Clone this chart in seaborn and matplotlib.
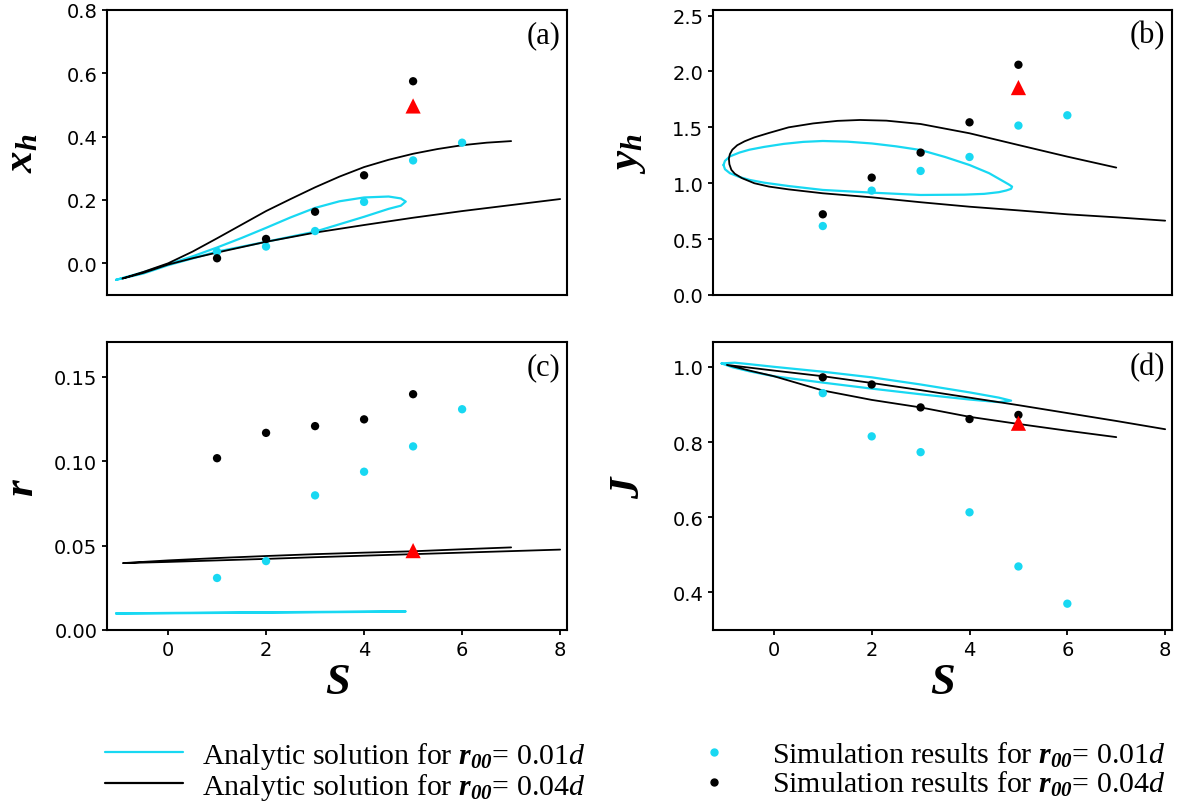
import matplotlib
matplotlib.use("Agg")
import matplotlib.pyplot as plt
from matplotlib.lines import Line2D
from matplotlib.ticker import FormatStrFormatter
import seaborn as sns

# ---- data ----
# simulation points
sim_S_01 = [1, 2, 3, 4, 5, 6]
sim_S_04 = [1, 2, 3, 4, 5]
xh_sim_01 = [0.037, 0.053, 0.102, 0.194, 0.325, 0.381]
xh_sim_04 = [0.016, 0.077, 0.163, 0.278, 0.575]
yh_sim_01 = [0.617, 0.934, 1.11, 1.235, 1.516, 1.608]
yh_sim_04 = [0.722, 1.05, 1.274, 1.545, 2.06]
r_sim_01 = [0.0308, 0.0408, 0.0797, 0.0937, 0.1087, 0.1307]
r_sim_04 = [0.1017, 0.1167, 0.1207, 0.1247, 0.1396]
J_sim_01 = [0.93, 0.815, 0.773, 0.613, 0.469, 0.370]
J_sim_04 = [0.972, 0.953, 0.892, 0.861, 0.872]
# red triangle (S = 5)
tri_S = [5]
tri_xh = [0.497]
tri_yh = [1.856]
tri_r = [0.047]
tri_J = [0.85]

# analytic r00 = 0.01d : closed loop (upper branch out, lower branch back)
a01_xh_up_S = [-1.06, -0.5, 0, 0.5, 1, 1.5, 2, 2.5, 3, 3.5, 4, 4.5, 4.75, 4.85]
a01_xh_up = [-0.052, -0.028, -0.003, 0.022, 0.05, 0.08, 0.112, 0.145, 0.175, 0.196, 0.208, 0.211, 0.205, 0.195]
a01_xh_lo_S = [4.75, 4.5, 4, 3, 2, 1, 0, -0.5, -1.06]
a01_xh_lo = [0.182, 0.172, 0.147, 0.10, 0.068, 0.037, -0.006, -0.032, -0.052]

a01_yh_up_S = [-1.03, -1.0, -0.9, -0.7, -0.5, -0.2, 0.2, 0.6, 1, 1.5, 2, 2.5, 3, 3.5, 4, 4.4, 4.68, 4.8, 4.87]
a01_yh_up = [1.163, 1.20, 1.24, 1.275, 1.30, 1.325, 1.352, 1.37, 1.378, 1.372, 1.356, 1.33, 1.297, 1.235, 1.163, 1.09, 1.02, 0.99, 0.97]
a01_yh_lo_S = [4.85, 4.75, 4.6, 4.3, 3.9, 3, 2, 1, 0.3, -0.2, -0.5, -0.7, -0.9, -1.0, -1.03]
a01_yh_lo = [0.95, 0.935, 0.92, 0.905, 0.898, 0.895, 0.916, 0.94, 0.975, 1.005, 1.03, 1.055, 1.09, 1.125, 1.163]

a01_r_up_S = [-1.06, 0, 1, 2, 3, 4, 4.85]
a01_r_up = [0.0098, 0.0101, 0.0103, 0.0105, 0.0107, 0.0109, 0.0110]
a01_r_lo_S = [4, 3, 2, 1, 0, -1.06]
a01_r_lo = [0.0107, 0.0105, 0.0103, 0.0101, 0.0099, 0.0098]

a01_J_up_S = [-1.07, -0.8, -0.5, 0, 1, 2, 3, 4, 4.6, 4.85]
a01_J_up = [1.009, 1.011, 1.007, 1.0, 0.987, 0.972, 0.953, 0.932, 0.918, 0.91]
a01_J_lo_S = [4.6, 4, 3, 2, 1, 0, -0.5, -0.85, -1.07]
a01_J_lo = [0.906, 0.913, 0.927, 0.942, 0.958, 0.975, 0.988, 0.999, 1.009]

# analytic r00 = 0.04d : branch A ends at S = 7, branch B ends at S = 8
a04_xh_A_S = [-0.93, -0.5, 0, 0.5, 1, 1.5, 2, 2.5, 3, 3.5, 4, 4.5, 5, 5.5, 6, 6.5, 7]
a04_xh_A = [-0.048, -0.027, 0.0, 0.037, 0.079, 0.122, 0.165, 0.203, 0.24, 0.274, 0.304, 0.327, 0.346, 0.361, 0.373, 0.381, 0.386]
a04_xh_B_S = [-0.93, -0.5, 0, 0.5, 1, 2, 3, 4, 5, 6, 7, 8]
a04_xh_B = [-0.048, -0.03, -0.004, 0.016, 0.034, 0.068, 0.097, 0.121, 0.144, 0.165, 0.184, 0.203]

a04_yh_A_S = [-0.92, -0.9, -0.85, -0.75, -0.6, -0.4, -0.1, 0.3, 0.8, 1.3, 1.76, 2.3, 3, 4, 5, 6, 7]
a04_yh_A = [1.22, 1.26, 1.30, 1.34, 1.375, 1.41, 1.45, 1.50, 1.535, 1.558, 1.566, 1.56, 1.53, 1.447, 1.342, 1.238, 1.14]
a04_yh_B_S = [-0.92, -0.91, -0.87, -0.8, -0.65, -0.4, -0.1, 0.3, 1, 2, 3, 4, 5, 6, 7, 8]
a04_yh_B = [1.22, 1.17, 1.12, 1.085, 1.045, 1.0, 0.97, 0.945, 0.91, 0.874, 0.83, 0.79, 0.757, 0.722, 0.695, 0.665]

a04_r_A_S = [-0.92, 0, 1, 2, 3, 4, 5, 6, 7]
a04_r_A = [0.0396, 0.0412, 0.0426, 0.0438, 0.0449, 0.0458, 0.0466, 0.0478, 0.0489]
a04_r_B_S = [-0.92, 0, 1, 2, 3, 4, 5, 6, 7, 8]
a04_r_B = [0.0396, 0.0403, 0.0412, 0.0421, 0.0431, 0.044, 0.0449, 0.0458, 0.0467, 0.0476]

a04_J_A_S = [-0.96, -0.5, 0, 1, 2, 3, 4, 5, 6, 7]
a04_J_A = [1.005, 0.99, 0.975, 0.937, 0.912, 0.892, 0.867, 0.848, 0.83, 0.813]
a04_J_B_S = [-0.96, 0, 1, 2, 3, 4, 5, 6, 7, 8]
a04_J_B = [1.005, 0.99, 0.975, 0.957, 0.938, 0.918, 0.898, 0.877, 0.856, 0.834]

CYAN = "#18d8f2"
RED = "#ff0000"

sns.set_style("ticks")
plt.rcParams.update({
    "font.family": ["DejaVu Sans"],
    "mathtext.fontset": "custom",
    "mathtext.rm": "Liberation Serif",
    "mathtext.it": "Liberation Serif:italic",
    "mathtext.bf": "Liberation Serif:bold",
    "mathtext.bfit": "Liberation Serif:italic:bold",
    "axes.linewidth": 1.5,
    "axes.edgecolor": "black",
    "axes.labelcolor": "black",
    "text.color": "black",
    "xtick.major.width": 1.3,
    "ytick.major.width": 1.3,
    "xtick.color": "black",
    "ytick.color": "black",
    "xtick.labelcolor": "black",
    "ytick.labelcolor": "black",
})

fig = plt.figure(figsize=(11.8, 8.04), dpi=100)
L1, R1 = 107 / 1180, 567 / 1180
L2, R2 = 713 / 1180, 1172 / 1180
T1, B1 = 1 - 11 / 804, 1 - 296 / 804
T2, B2 = 1 - 343 / 804, 1 - 631 / 804
ax_a = fig.add_axes([L1, B1, R1 - L1, T1 - B1])
ax_b = fig.add_axes([L2, B1, R2 - L2, T1 - B1])
ax_c = fig.add_axes([L1, B2, R1 - L1, T2 - B2])
ax_d = fig.add_axes([L2, B2, R2 - L2, T2 - B2])

panels = [
    (ax_a, "(a)", r"$\mathbfit{x}_{\mathbfit{h}}$",
     (a01_xh_up_S, a01_xh_up, a01_xh_lo_S, a01_xh_lo),
     (a04_xh_A_S, a04_xh_A, a04_xh_B_S, a04_xh_B),
     xh_sim_01, xh_sim_04, tri_xh, (-0.1, 0.8), [0.0, 0.2, 0.4, 0.6, 0.8], "%.1f"),
    (ax_b, "(b)", r"$\mathbfit{y}_{\mathbfit{h}}$",
     (a01_yh_up_S, a01_yh_up, a01_yh_lo_S, a01_yh_lo),
     (a04_yh_A_S, a04_yh_A, a04_yh_B_S, a04_yh_B),
     yh_sim_01, yh_sim_04, tri_yh, (0, 2.55), [0.0, 0.5, 1.0, 1.5, 2.0, 2.5], "%.1f"),
    (ax_c, "(c)", r"$\mathbfit{r}$",
     (a01_r_up_S, a01_r_up, a01_r_lo_S, a01_r_lo),
     (a04_r_A_S, a04_r_A, a04_r_B_S, a04_r_B),
     r_sim_01, r_sim_04, tri_r, (0, 0.1705), [0.0, 0.05, 0.10, 0.15], "%.2f"),
    (ax_d, "(d)", r"$\mathbfit{J}$",
     (a01_J_up_S, a01_J_up, a01_J_lo_S, a01_J_lo),
     (a04_J_A_S, a04_J_A, a04_J_B_S, a04_J_B),
     J_sim_01, J_sim_04, tri_J, (0.3, 1.066), [0.4, 0.6, 0.8, 1.0], "%.1f"),
]

for ax, tag, ylab, c01, c04, s01, s04, tri, ylim, yticks, fmt in panels:
    # cyan loop: upper branch then lower branch back
    sns.lineplot(x=c01[0] + c01[2], y=c01[1] + c01[3], sort=False, estimator=None,
                 color=CYAN, lw=1.6, ax=ax)
    # black curve: branch A reversed, then branch B
    sns.lineplot(x=c04[0][::-1] + c04[2], y=c04[1][::-1] + c04[3], sort=False, estimator=None,
                 color="black", lw=1.3, ax=ax)
    sns.scatterplot(x=sim_S_01, y=s01, color=CYAN, s=36, edgecolor="none", ax=ax, zorder=3)
    sns.scatterplot(x=sim_S_04, y=s04, color="black", s=36, edgecolor="none", ax=ax, zorder=3)
    sns.scatterplot(x=tri_S, y=tri, color=RED, marker="^", s=120, edgecolor="none", ax=ax, zorder=4)

    ax.set_xlim(-1.245, 8.14)
    ax.set_ylim(*ylim)
    ax.set_yticks(yticks)
    ax.yaxis.set_major_formatter(FormatStrFormatter(fmt))
    ax.set_ylabel(ylab, fontsize=31)
    ax.yaxis.set_label_coords(-0.142, 0.5)
    ax.tick_params(labelsize=14, colors="black")
    ax.text(0.985, 0.965, tag, transform=ax.transAxes, ha="right", va="top",
            fontsize=22, family="Liberation Serif")
    for sp in ax.spines.values():
        sp.set_visible(True)

for ax in (ax_a, ax_b):
    ax.set_xticks([])
    ax.set_xlabel("")
for ax in (ax_c, ax_d):
    ax.set_xticks([0, 2, 4, 6, 8])
    ax.set_xlabel(r"$\mathbfit{S}$", fontsize=32, labelpad=0)

# legends
lab01 = r"Analytic solution for $\mathbfit{r}_{\mathbfit{00}}$= 0.01$d$"
lab04 = r"Analytic solution for $\mathbfit{r}_{\mathbfit{00}}$= 0.04$d$"
sim01 = r"Simulation results for $\mathbfit{r}_{\mathbfit{00}}$= 0.01$d$"
sim04 = r"Simulation results for $\mathbfit{r}_{\mathbfit{00}}$= 0.04$d$"
h_lines = [Line2D([], [], color=CYAN, lw=1.6), Line2D([], [], color="black", lw=1.6)]
h_dots = [Line2D([], [], color=CYAN, marker="o", ls="none", ms=5),
          Line2D([], [], color="black", marker="o", ls="none", ms=5)]
leg_kw = dict(loc="upper left", frameon=False, borderpad=0, handlelength=2.6,
              handletextpad=0.65, labelspacing=0.0,
              prop={"family": "Liberation Serif", "size": 21.5})
leg1 = fig.legend(h_lines, [lab01, lab04], bbox_to_anchor=(90 / 1180, 1 - 726 / 804), **leg_kw)
leg2 = fig.legend(h_dots, [sim01, sim04], bbox_to_anchor=(660 / 1180, 1 - 726 / 804), **leg_kw)

fig.savefig("out.png", dpi=100)
